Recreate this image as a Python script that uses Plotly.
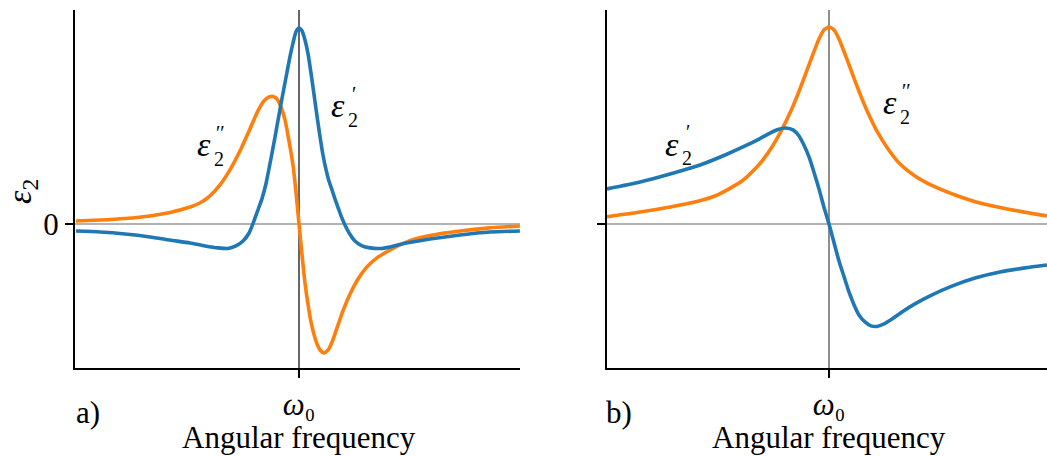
import plotly.graph_objects as go

# ---- data: frequency offset from resonance (w - w0, arb. units) and eps_2 (normalised) ----
# panel a): eps_2' (real part) and eps_2'' (imaginary part)
a_re_x = [-10.05, -8.96, -7.84, -6.71, -5.81, -4.91, -4.23, -3.65, -3.20, -2.84,
          -2.52, -2.25, -2.03, -1.85, -1.67, -1.49, -1.31, -1.13, -0.95, -0.77,
          -0.59, -0.41, -0.27, -0.14, 0.00, 0.14, 0.27, 0.41, 0.54, 0.68,
          0.81, 0.95, 1.08, 1.22, 1.35, 1.49, 1.62, 1.76, 1.89, 2.07,
          2.30, 2.52, 2.84, 3.20, 3.65, 4.10, 4.64, 5.90, 7.25, 8.60, 9.95]
a_re_y = [-0.036, -0.041, -0.051, -0.066, -0.082, -0.097, -0.112, -0.122, -0.125, -0.112,
          -0.087, -0.046, 0.015, 0.071, 0.128, 0.204, 0.306, 0.413, 0.526, 0.638,
          0.745, 0.852, 0.923, 0.980, 1.000, 0.985, 0.939, 0.867, 0.770, 0.658,
          0.551, 0.444, 0.352, 0.276, 0.219, 0.173, 0.128, 0.084, 0.043, -0.005,
          -0.054, -0.087, -0.112, -0.122, -0.125, -0.117, -0.102, -0.077, -0.056, -0.041, -0.036]

a_im_x = [-10.05, -8.96, -7.84, -6.71, -5.81, -4.91, -4.46, -4.01, -3.56, -3.11,
          -2.66, -2.21, -1.85, -1.58, -1.35, -1.17, -0.99, -0.81, -0.63, -0.45,
          -0.27, -0.14, 0.00, 0.14, 0.27, 0.41, 0.54, 0.68, 0.81, 0.95,
          1.13, 1.31, 1.49, 1.71, 1.98, 2.30, 2.66, 3.06, 3.51, 4.10,
          4.64, 5.23, 5.90, 7.25, 8.60, 9.95]
a_im_y = [0.015, 0.020, 0.028, 0.041, 0.059, 0.087, 0.107, 0.143, 0.199, 0.276,
          0.372, 0.485, 0.577, 0.628, 0.648, 0.651, 0.638, 0.597, 0.531, 0.423,
          0.301, 0.168, 0.000, -0.163, -0.301, -0.413, -0.500, -0.566, -0.612, -0.643,
          -0.658, -0.643, -0.602, -0.531, -0.444, -0.357, -0.281, -0.219, -0.173, -0.133,
          -0.102, -0.077, -0.059, -0.036, -0.020, -0.010]

# panel b)
b_re_x = [-10.00, -8.51, -7.16, -5.81, -4.68, -3.78, -3.11, -2.66, -2.30, -1.94,
          -1.62, -1.35, -1.13, -0.90, -0.68, -0.45, -0.23, 0.00, 0.23, 0.45,
          0.68, 0.90, 1.13, 1.35, 1.62, 1.89, 2.16, 2.48, 2.84, 3.29,
          3.87, 4.55, 5.45, 6.58, 7.70, 8.83, 9.82]
b_re_y = [0.179, 0.214, 0.255, 0.301, 0.352, 0.398, 0.436, 0.464, 0.482, 0.490,
          0.480, 0.449, 0.403, 0.342, 0.265, 0.179, 0.087, 0.000, -0.097, -0.189,
          -0.270, -0.347, -0.413, -0.464, -0.500, -0.520, -0.523, -0.510, -0.485, -0.449,
          -0.408, -0.367, -0.321, -0.276, -0.245, -0.224, -0.209]

b_im_x = [-10.00, -8.51, -7.16, -5.95, -5.14, -4.46, -3.92, -3.47, -3.02, -2.57,
          -2.16, -1.76, -1.40, -1.04, -0.72, -0.45, -0.23, 0.00, 0.23, 0.45,
          0.72, 1.04, 1.40, 1.76, 2.16, 2.66, 3.20, 3.87, 4.68, 5.68,
          6.80, 8.15, 9.82]
b_im_y = [0.037, 0.061, 0.087, 0.115, 0.143, 0.182, 0.219, 0.265, 0.321, 0.393,
          0.474, 0.566, 0.663, 0.770, 0.867, 0.944, 0.990, 1.005, 0.990, 0.944,
          0.867, 0.770, 0.663, 0.566, 0.474, 0.383, 0.306, 0.245, 0.194, 0.148,
          0.107, 0.074, 0.041]

BLUE = "#1f77b4"
ORANGE = "#ff7f0e"
FONT = "Liberation Serif, DejaVu Serif, serif"
W, H = 1047, 456


def curve(x, y, color, xa, ya):
    return go.Scatter(x=x, y=y, mode="lines", xaxis=xa, yaxis=ya, hoverinfo="skip",
                      line=dict(color=color, width=3.6, shape="spline", smoothing=0.6))


fig = go.Figure()
fig.add_trace(curve(a_im_x, a_im_y, ORANGE, "x", "y"))
fig.add_trace(curve(a_re_x, a_re_y, BLUE, "x", "y"))
fig.add_trace(curve(b_im_x, b_im_y, ORANGE, "x2", "y2"))
fig.add_trace(curve(b_re_x, b_re_y, BLUE, "x2", "y2"))


def fx(p):
    return p / W


def fy(p):
    return 1 - p / H


ydom = [fy(368), fy(10)]
yrange = [-0.735, 1.092]

common_x = dict(showline=True, linecolor="black", linewidth=2, showgrid=False, zeroline=False,
                ticks="outside", ticklen=8, tickwidth=2, tickcolor="black",
                tickvals=[0], ticktext=["<i>ω</i>₀"],
                tickfont=dict(family=FONT, size=31, color="black"))
common_y = dict(showline=True, linecolor="black", linewidth=2, showgrid=False, zeroline=False,
                ticks="outside", ticklen=8, tickwidth=2, tickcolor="black",
                tickvals=[0], tickfont=dict(family=FONT, size=31, color="black"),
                range=yrange, domain=ydom)

fig.update_layout(
    width=W, height=H, margin=dict(l=0, r=0, t=0, b=0),
    paper_bgcolor="white", plot_bgcolor="white", showlegend=False,
    xaxis=dict(common_x, domain=[fx(75), fx(520)], range=[-10.09, 9.955], anchor="y"),
    yaxis=dict(common_y, ticktext=["0"], anchor="x"),
    xaxis2=dict(common_x, domain=[fx(607), 1.0], range=[-10.0, 9.82], anchor="y2"),
    yaxis2=dict(common_y, showticklabels=False, anchor="x2"),
)

# zero line and resonance marker in each panel
for xr, yr, col in (("x", "y", "#000000"), ("x2", "y2", "#444444")):
    fig.add_shape(type="line", xref=f"{xr} domain", yref=yr, x0=0, x1=1, y0=0, y1=0,
                  line=dict(color="#666666", width=1.2), layer="below")
    fig.add_shape(type="line", xref=xr, yref=f"{yr} domain", x0=0, x1=0, y0=0, y1=1,
                  line=dict(color=col, width=1.2), layer="below")


def text(x, y, s, size=31, anchor="center", angle=0, vanchor="middle"):
    fig.add_annotation(x=fx(x), y=fy(y), xref="paper", yref="paper", text=s, showarrow=False,
                       font=dict(family=FONT, size=size, color="black"), xanchor=anchor,
                       yanchor=vanchor, textangle=angle, borderpad=0)


def eps(x_right, y, primes):
    # epsilon followed by the primes stacked over the subscript 2
    text(x_right, y, "<i>ε</i>", size=34, anchor="right")
    text(x_right + 1, y + 1, "<i>" + primes + "</i><br>2", size=20, anchor="left")


eps(212, 145, "′′")
eps(346, 106, "′")
eps(680, 144, "′")
eps(898, 103, "′′")

# vertical axis label
text(22, 192, "<i>ε</i><sub>2</sub>", size=34, angle=-90)

# panel tags and x titles
text(75, 412, "a)", size=31, anchor="left")
text(605, 412, "b)", size=31, anchor="left")
text(299, 456, "Angular frequency", size=31, vanchor="bottom")
text(829, 456, "Angular frequency", size=31, vanchor="bottom")

fig.write_html("out.html")
